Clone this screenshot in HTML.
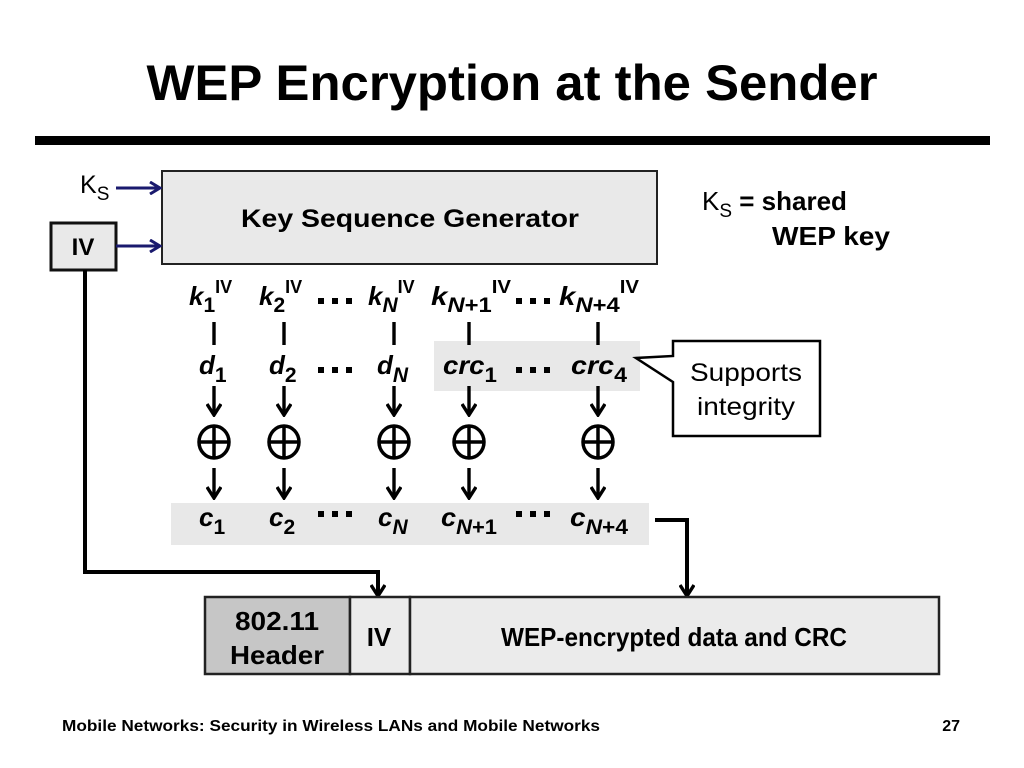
<!DOCTYPE html>
<html><head><meta charset="utf-8"><style>
html,body{margin:0;padding:0;background:#fff;}
svg{display:block;}
text{font-family:"Liberation Sans",sans-serif;font-weight:bold;fill:#000;}
.n{font-weight:normal;}
.i{font-style:italic;}
</style></head><body>
<svg width="1024" height="768" viewBox="0 0 1024 768" xmlns="http://www.w3.org/2000/svg">
<defs>
<marker id="ab" markerWidth="16" markerHeight="16" refX="8" refY="13" orient="0" markerUnits="userSpaceOnUse"><path d="M1,3 L8,14 L15,3" fill="none" stroke="#000" stroke-width="3.4"/></marker>
<marker id="an" markerWidth="14" markerHeight="14" refX="12" refY="7" orient="auto" markerUnits="userSpaceOnUse"><path d="M2,1 L12,7 L2,13" fill="none" stroke="#1a1a6e" stroke-width="3"/></marker>
</defs>
<text x="512" y="100" font-size="50" text-anchor="middle" textLength="731" lengthAdjust="spacingAndGlyphs">WEP Encryption at the Sender</text>
<rect x="35" y="136" width="955" height="9" fill="#000"/>

<rect x="162" y="171" width="495" height="93" fill="#e9e9e9" stroke="#222" stroke-width="2"/>
<text x="410" y="227" font-size="25" text-anchor="middle" textLength="338" lengthAdjust="spacingAndGlyphs">Key Sequence Generator</text>
<text x="80" y="193" font-size="25" class="n">K<tspan font-size="19" dy="7">S</tspan></text>
<line x1="116" y1="188" x2="160" y2="188" stroke="#1a1a6e" stroke-width="3" marker-end="url(#an)"/>
<rect x="51" y="223" width="65" height="47" fill="#e9e9e9" stroke="#111" stroke-width="3"/>
<text x="83" y="255" font-size="24" text-anchor="middle">IV</text>
<line x1="116" y1="246" x2="160" y2="246" stroke="#1a1a6e" stroke-width="3" marker-end="url(#an)"/>

<text x="702" y="210" font-size="26" class="n">K<tspan font-size="19" dy="7">S</tspan><tspan dy="-7" font-weight="bold"> = shared</tspan></text>
<text x="772" y="245" font-size="26" textLength="118" lengthAdjust="spacingAndGlyphs">WEP key</text>

<rect x="434" y="341" width="206" height="50" fill="#e8e8e8"/>
<rect x="171" y="503" width="478" height="42" fill="#e8e8e8"/>

<g font-size="26">
<text x="189" y="305" class="i">k<tspan font-size="21" dy="7" font-style="normal">1</tspan><tspan font-size="18" dy="-19" font-style="normal">IV</tspan></text>
<text x="259" y="305" class="i">k<tspan font-size="21" dy="7" font-style="normal">2</tspan><tspan font-size="18" dy="-19" font-style="normal">IV</tspan></text>
<text x="368" y="305" class="i">k<tspan font-size="21" dy="7">N</tspan><tspan font-size="18" dy="-19" font-style="normal">IV</tspan></text>
<text x="431" y="305" class="i" textLength="80" lengthAdjust="spacingAndGlyphs">k<tspan font-size="21" dy="7">N</tspan><tspan font-size="21" font-style="normal">+1</tspan><tspan font-size="18" dy="-19" font-style="normal">IV</tspan></text>
<text x="559" y="305" class="i" textLength="80" lengthAdjust="spacingAndGlyphs">k<tspan font-size="21" dy="7">N</tspan><tspan font-size="21" font-style="normal">+4</tspan><tspan font-size="18" dy="-19" font-style="normal">IV</tspan></text>
<text x="199" y="374" class="i">d<tspan font-size="21" dy="8" font-style="normal">1</tspan></text>
<text x="269" y="374" class="i">d<tspan font-size="21" dy="8" font-style="normal">2</tspan></text>
<text x="377" y="374" class="i">d<tspan font-size="21" dy="8">N</tspan></text>
<text x="443" y="374" class="i" textLength="54" lengthAdjust="spacingAndGlyphs">crc<tspan font-size="21" dy="8" font-style="normal">1</tspan></text>
<text x="571" y="374" class="i" textLength="56" lengthAdjust="spacingAndGlyphs">crc<tspan font-size="21" dy="8" font-style="normal">4</tspan></text>
<text x="199" y="526" class="i">c<tspan font-size="21" dy="8" font-style="normal">1</tspan></text>
<text x="269" y="526" class="i">c<tspan font-size="21" dy="8" font-style="normal">2</tspan></text>
<text x="378" y="526" class="i">c<tspan font-size="21" dy="8">N</tspan></text>
<text x="441" y="526" class="i" textLength="56" lengthAdjust="spacingAndGlyphs">c<tspan font-size="21" dy="8">N</tspan><tspan font-size="21" font-style="normal">+1</tspan></text>
<text x="570" y="526" class="i" textLength="58" lengthAdjust="spacingAndGlyphs">c<tspan font-size="21" dy="8">N</tspan><tspan font-size="21" font-style="normal">+4</tspan></text>
</g>
<g fill="#000">
<rect x="318" y="298" width="6" height="6"/><rect x="332" y="298" width="6" height="6"/><rect x="346" y="298" width="6" height="6"/>
<rect x="516" y="298" width="6" height="6"/><rect x="530" y="298" width="6" height="6"/><rect x="544" y="298" width="6" height="6"/>
<rect x="318" y="367" width="6" height="6"/><rect x="332" y="367" width="6" height="6"/><rect x="346" y="367" width="6" height="6"/>
<rect x="516" y="367" width="6" height="6"/><rect x="530" y="367" width="6" height="6"/><rect x="544" y="367" width="6" height="6"/>
<rect x="318" y="511" width="6" height="6"/><rect x="332" y="511" width="6" height="6"/><rect x="346" y="511" width="6" height="6"/>
<rect x="516" y="511" width="6" height="6"/><rect x="530" y="511" width="6" height="6"/><rect x="544" y="511" width="6" height="6"/>
</g>

<g stroke="#000" stroke-width="3.4" fill="none">
<line x1="214" y1="322" x2="214" y2="345"/><line x1="284" y1="322" x2="284" y2="345"/><line x1="394" y1="322" x2="394" y2="345"/><line x1="469" y1="322" x2="469" y2="345"/><line x1="598" y1="322" x2="598" y2="345"/>
<line x1="214" y1="386" x2="214" y2="414" marker-end="url(#ab)"/><line x1="284" y1="386" x2="284" y2="414" marker-end="url(#ab)"/><line x1="394" y1="386" x2="394" y2="414" marker-end="url(#ab)"/><line x1="469" y1="386" x2="469" y2="414" marker-end="url(#ab)"/><line x1="598" y1="386" x2="598" y2="414" marker-end="url(#ab)"/>
<line x1="214" y1="468" x2="214" y2="497" marker-end="url(#ab)"/><line x1="284" y1="468" x2="284" y2="497" marker-end="url(#ab)"/><line x1="394" y1="468" x2="394" y2="497" marker-end="url(#ab)"/><line x1="469" y1="468" x2="469" y2="497" marker-end="url(#ab)"/><line x1="598" y1="468" x2="598" y2="497" marker-end="url(#ab)"/>
<g stroke-width="3.5">
<ellipse cx="214" cy="442" rx="15" ry="16"/><line x1="199" y1="442" x2="229" y2="442"/><line x1="214" y1="426" x2="214" y2="458"/>
<ellipse cx="284" cy="442" rx="15" ry="16"/><line x1="269" y1="442" x2="299" y2="442"/><line x1="284" y1="426" x2="284" y2="458"/>
<ellipse cx="394" cy="442" rx="15" ry="16"/><line x1="379" y1="442" x2="409" y2="442"/><line x1="394" y1="426" x2="394" y2="458"/>
<ellipse cx="469" cy="442" rx="15" ry="16"/><line x1="454" y1="442" x2="484" y2="442"/><line x1="469" y1="426" x2="469" y2="458"/>
<ellipse cx="598" cy="442" rx="15" ry="16"/><line x1="583" y1="442" x2="613" y2="442"/><line x1="598" y1="426" x2="598" y2="458"/>
</g>
<polyline points="85,270 85,572 378,572 378,595" stroke-width="4" marker-end="url(#ab)"/>
<polyline points="655,520 687,520 687,595" stroke-width="4" marker-end="url(#ab)"/>
</g>

<path d="M673,341 L820,341 L820,436 L673,436 L673,382 L636,358 L673,356 Z" fill="#fff" stroke="#000" stroke-width="2.5"/>
<text x="746" y="381" font-size="25" class="n" text-anchor="middle" textLength="112" lengthAdjust="spacingAndGlyphs">Supports</text>
<text x="746" y="415" font-size="25" class="n" text-anchor="middle" textLength="98" lengthAdjust="spacingAndGlyphs">integrity</text>

<rect x="205" y="597" width="145" height="77" fill="#c6c6c6" stroke="#222" stroke-width="2.5"/>
<rect x="350" y="597" width="60" height="77" fill="#ebebeb" stroke="#222" stroke-width="2.5"/>
<rect x="410" y="597" width="529" height="77" fill="#ebebeb" stroke="#222" stroke-width="2.5"/>
<text x="277" y="630" font-size="26" text-anchor="middle" textLength="84" lengthAdjust="spacingAndGlyphs">802.11</text>
<text x="277" y="664" font-size="26" text-anchor="middle" textLength="94" lengthAdjust="spacingAndGlyphs">Header</text>
<text x="379" y="646" font-size="26" text-anchor="middle">IV</text>
<text x="674" y="646" font-size="26" text-anchor="middle" textLength="346" lengthAdjust="spacingAndGlyphs">WEP-encrypted data and CRC</text>

<text x="62" y="731" font-size="16" textLength="538" lengthAdjust="spacingAndGlyphs">Mobile Networks:  Security in Wireless LANs and Mobile Networks</text>
<text x="960" y="731" font-size="16" text-anchor="end">27</text>
</svg>
</body></html>
